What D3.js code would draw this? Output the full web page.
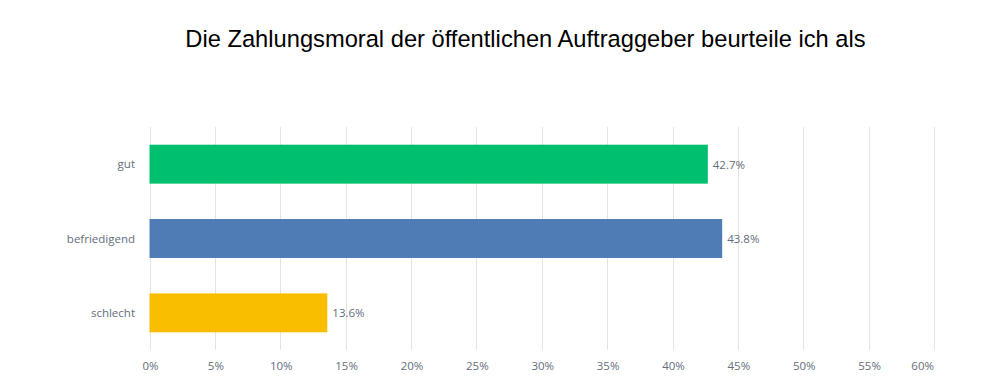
<!DOCTYPE html>
<html>
<head>
<meta charset="utf-8">
<script src="https://cdn.jsdelivr.net/npm/d3@7"></script>
<style>
  body { margin: 0; background: #fff; }
  .grid line { stroke: #e3e3e3; stroke-width: 1; }
  text { font-family: "Open Sans", "Lato", sans-serif; }
</style>
</head>
<body>
<div class="chart"></div>
<script>
const categories = ["gut", "befriedigend", "schlecht"];
const values = [42.7, 43.8, 13.6];
const colors = ["#00bf6f", "#507cb6", "#f9be00"];
const xTicks = [0, 5, 10, 15, 20, 25, 30, 35, 40, 45, 50, 55, 60];
const title = "Die Zahlungsmoral der öffentlichen Auftraggeber beurteile ich als";

const width = 1000, height = 387;
const margin = { top: 127, right: 66, bottom: 37, left: 149.5 };

const svg = d3.select(".chart")
  .append("svg")
  .attr("width", width)
  .attr("height", height);

svg.append("text")
  .attr("x", 525.5)
  .attr("y", 47)
  .attr("text-anchor", "middle")
  .style("font-family", "'Liberation Sans', Arial, sans-serif")
  .style("font-size", "23.7px")
  .attr("fill", "#000")
  .text(title);

const x = d3.scaleLinear()
  .domain([0, 60])
  .range([margin.left, width - margin.right]);

const y = d3.scaleBand()
  .domain(categories)
  .range([margin.top, height - margin.bottom])
  .paddingInner(0.476)
  .paddingOuter(0.238);

// gridlines
svg.append("g")
  .attr("class", "grid")
  .selectAll("line")
  .data(xTicks)
  .join("line")
  .attr("x1", (d) => Math.round(x(d)) + 0.5)
  .attr("x2", (d) => Math.round(x(d)) + 0.5)
  .attr("y1", margin.top)
  .attr("y2", height - margin.bottom);

// x tick labels
svg.append("g")
  .selectAll("text")
  .data(xTicks)
  .join("text")
  .attr("x", (d, i) => i === xTicks.length - 1 ? x(d) : x(d) + 1)
  .attr("y", 370)
  .attr("text-anchor", (d, i) => i === xTicks.length - 1 ? "end" : "middle")
  .attr("fill", "#646e7b")
  .style("font-size", "11.5px")
  .text((d) => d + "%");

// bars
svg.append("g")
  .selectAll("rect")
  .data(values)
  .join("rect")
  .attr("x", x(0))
  .attr("y", (d, i) => y(categories[i]))
  .attr("width", (d) => x(d) - x(0))
  .attr("height", y.bandwidth())
  .attr("fill", (d, i) => colors[i]);

// category labels
svg.append("g")
  .selectAll("text")
  .data(categories)
  .join("text")
  .attr("x", 135)
  .attr("y", (d) => y(d) + y.bandwidth() / 2)
  .attr("dy", "0.35em")
  .attr("text-anchor", "end")
  .attr("fill", "#646e7b")
  .style("font-size", "11.5px")
  .text((d) => d);

// value labels
svg.append("g")
  .selectAll("text")
  .data(values)
  .join("text")
  .attr("x", (d) => x(d) + 5)
  .attr("y", (d, i) => y(categories[i]) + y.bandwidth() / 2)
  .attr("dy", "0.4em")
  .attr("fill", "#646e7b")
  .style("font-size", "11.5px")
  .text((d) => d.toFixed(1) + "%");
</script>
</body>
</html>
